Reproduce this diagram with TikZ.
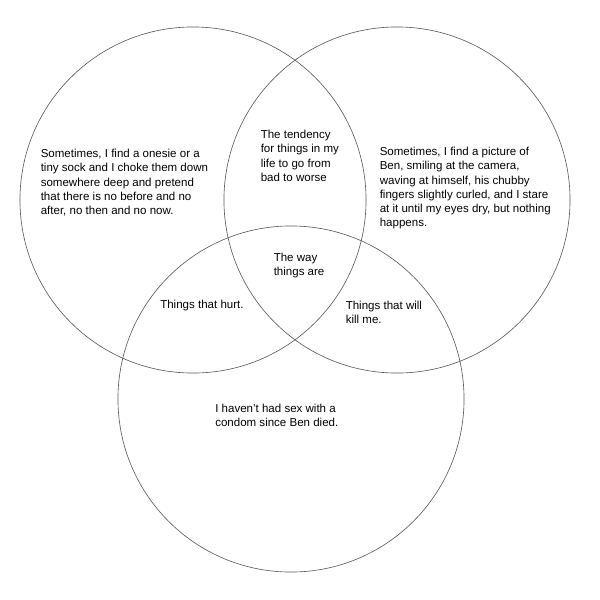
\documentclass[tikz,border=0pt]{standalone}
\usepackage{fontspec}
\setmainfont{Liberation Sans}

\begin{document}
\begin{tikzpicture}[x=0.025cm, y=-0.025cm,
        ring/.style={draw=black!65, line width=0.45pt, circle, inner sep=0pt, minimum size=8.65cm},
        txt/.style={anchor=north west, inner sep=0pt, align=left, font=\fontsize{8.2}{10.1}\selectfont}]
        \useasboundingbox (0,0) rectangle (600,600);

        \node[ring] (left) at (193,200) {};
        \node[ring] (right) at (397,200) {};
        \node[ring] (bottom) at (291,399) {};

        \node[txt] (onesie) at (40.5,149) {Sometimes, I find a onesie or a\\tiny sock and I choke them down\\somewhere deep and pretend\\that there is no before and no\\after, no then and no now.};
        \node[txt] (tendency) at (260.5,130) {The tendency\\for things in my\\life to go from\\bad to worse};
        \node[txt] (picture) at (379.5,147) {Sometimes, I find a picture of\\Ben, smiling at the camera,\\waving at himself, his chubby\\fingers slightly curled, and I stare\\at it until my eyes dry, but nothing\\happens.};
        \node[txt] (way) at (273.5,253) {The way\\things are};
        \node[txt] (hurt) at (160,300) {Things that hurt.};
        \node[txt] (kill) at (345.5,301) {Things that will\\kill me.};
        \node[txt] (condom) at (215,404) {I haven’t had sex with a\\condom since Ben died.};
\end{tikzpicture}
\end{document}
